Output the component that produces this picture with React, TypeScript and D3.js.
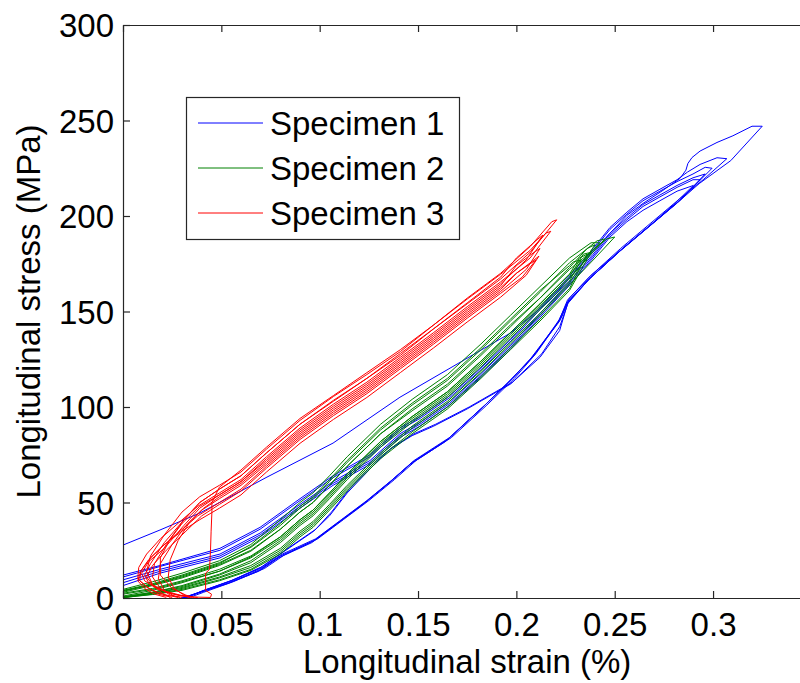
import React, { useEffect, useRef } from 'react';
import * as d3 from 'd3';

type Pt = [number, number];

const xTicks = [0, 0.05, 0.1, 0.15, 0.2, 0.25, 0.3];
const yTicks = [0, 50, 100, 150, 200, 250, 300];
const seriesNames = ['Specimen 1', 'Specimen 2', 'Specimen 3'];
const seriesColors = ['#0000ff', '#008000', '#ff0000'];

// Specimen 1 (strain %, stress MPa), one array per load cycle
const s1Loop1: Pt[] = [[0.0305,0],[0.039,3],[0.054,8],[0.07,15],[0.08,22],[0.097,30],[0.11,40],[0.123,50],[0.136,61],[0.147,71],[0.165,83],[0.183,100],[0.197,114],[0.208,126],[0.222,145],[0.226,155],[0.237,167],[0.253,182],[0.268,195],[0.283,208],[0.293,217],[0.309,229],[0.325,247],
  [0.3198,247],[0.3101,242],[0.302,238.5],[0.2934,234],[0.2893,230.6],[0.2872,227.5],[0.2862,224],[0.2832,219.7],[0.2745,213.4],[0.2644,206.6],[0.2562,200.3],[0.2476,191],[0.241,183.6],[0.2298,170.5],[0.2171,155.9],[0.1968,138.6],[0.1749,125.5],[0.1408,105.1],[0.1068,81.1],[0.0732,63.3],[0.0391,44.5],[0.0188,35.6],[0,27.7]];
const s1Loop2: Pt[] = [[0.0315,0],[0.04,3.5],[0.055,9],[0.071,16],[0.081,23],[0.098,31],[0.111,41],[0.124,51],[0.137,62],[0.148,72],[0.166,84],[0.184,101],[0.198,115],[0.209,127],[0.222,146],[0.226,156],[0.237,168],[0.253,183],[0.268,196],[0.283,209],[0.295,219],[0.307,230],
  [0.302,230.5],[0.2934,227],[0.287,223],[0.2817,219],[0.273,214],[0.2644,209],[0.2562,202],[0.2476,194],[0.239,183],[0.2273,169],[0.212,152],[0.1968,135],[0.1815,120],[0.1662,106],[0.151,95],[0.1408,89],[0.1256,75],[0.1068,64],[0.09,52],[0.0697,37],[0.0493,26],[0.0188,17],[0,12]];
const s1Loop3: Pt[] = [[0.0305,0],[0.04,3.5],[0.055,9],[0.07,16],[0.08,23],[0.097,35],[0.105,43],[0.114,55],[0.126,68],[0.136,78],[0.147,85],[0.158,90],[0.175,99],[0.197,112],[0.212,126],[0.222,140],[0.226,154],[0.237,167],[0.253,182],[0.268,195],[0.283,208],[0.2995,225],
  [0.296,225.5],[0.2898,222],[0.2817,218],[0.273,213],[0.2644,208],[0.2562,201],[0.2476,193],[0.239,182],[0.2273,168],[0.212,151],[0.1968,134],[0.1815,119],[0.1662,105],[0.151,94],[0.1408,88],[0.1256,74],[0.1068,63],[0.09,51],[0.0697,36],[0.0493,25],[0.0188,16.5],[0,11]];
const s1Loop4: Pt[] = [[0.0295,0],[0.038,2.5],[0.053,7.5],[0.069,14],[0.079,21],[0.096,29],[0.109,39],[0.122,49],[0.135,60],[0.146,70],[0.164,82],[0.182,99],[0.196,113],[0.207,125],[0.221,144],[0.2255,154],[0.236,166],[0.252,181],[0.267,194],[0.282,207],[0.296,222],
  [0.2898,220],[0.2817,216],[0.273,211],[0.2644,206],[0.2562,199],[0.2476,191],[0.239,180],[0.2273,166],[0.212,149],[0.1968,132],[0.1815,117],[0.1662,103],[0.151,92],[0.1408,86],[0.1256,72],[0.1068,61],[0.09,49],[0.0697,34],[0.0493,23],[0.0188,15],[0,9.5]];
const s1Loop5: Pt[] = [[0.032,0],[0.041,4],[0.056,9.5],[0.071,16.5],[0.081,24],[0.098,36],[0.106,45],[0.115,57],[0.127,70],[0.137,79],[0.148,86],[0.159,91],[0.176,100],[0.198,113],[0.213,128],[0.222,142],[0.2265,155],[0.238,168],[0.254,183],[0.269,196],[0.284,209],[0.2935,219],
  [0.2898,219],[0.2817,215],[0.273,210],[0.2644,205],[0.2562,198],[0.2476,190],[0.239,179],[0.2273,165],[0.212,148],[0.1968,131],[0.1815,116],[0.1662,102],[0.151,91],[0.1408,85],[0.1256,71],[0.1068,60],[0.09,48],[0.0697,33],[0.0493,22],[0.0188,14],[0,8]];
const s1Loop6: Pt[] = [[0.033,0],[0.041,3],[0.056,8.5],[0.072,15.5],[0.082,22.5],[0.099,31],[0.112,41],[0.125,51],[0.138,62],[0.149,72],[0.167,84],[0.185,101],[0.199,115],[0.21,128],[0.223,147],[0.227,157],[0.238,169],[0.254,183],[0.269,196],[0.28,206],[0.29,216],
  [0.2817,213],[0.273,208],[0.2644,203],[0.2562,197],[0.2476,189],[0.239,178],[0.2273,164],[0.212,147],[0.1968,130],[0.1815,115],[0.1662,101],[0.151,90],[0.1408,84],[0.1256,70],[0.1068,59],[0.09,47],[0.0697,32],[0.0493,21],[0.0188,13],[0,6.5]];

// Specimen 2
const s2Loop1: Pt[] = [[0,0.3],[0.015,2.5],[0.03,5.5],[0.049,11],[0.065,17],[0.08,26],[0.09,35],[0.0966,40],[0.105,49],[0.114,59],[0.131,76],[0.147,90],[0.165,103],[0.182,119],[0.197,134],[0.212,149],[0.227,165],[0.24,185],
  [0.236,183],[0.227,173],[0.212,157],[0.197,142],[0.182,127],[0.165,111],[0.147,98],[0.131,86],[0.114,69],[0.105,59],[0.0966,50],[0.09,45],[0.08,36],[0.065,25],[0.049,17.5],[0.03,11],[0.015,7],[0,3.5]];
const s2Loop2: Pt[] = [[0,0.5],[0.015,3],[0.03,6.5],[0.049,12.5],[0.065,19.5],[0.08,30],[0.09,39],[0.0966,44],[0.105,53],[0.114,63],[0.131,80],[0.147,93],[0.165,106],[0.182,122],[0.197,137],[0.212,152],[0.227,167.5],[0.245,188],
  [0.241,187],[0.227,175.5],[0.212,160],[0.197,145],[0.182,130],[0.165,114],[0.147,101],[0.131,88],[0.114,71],[0.105,61],[0.0966,52],[0.09,47],[0.08,38],[0.065,26.5],[0.049,18.5],[0.03,12],[0.015,7.5],[0,4]];
const s2Loop3: Pt[] = [[0,0.2],[0.015,2],[0.03,4.5],[0.049,9.5],[0.065,15],[0.08,24],[0.09,33],[0.0966,38],[0.105,47],[0.114,57],[0.131,74],[0.147,87],[0.165,100],[0.182,116],[0.197,131],[0.212,146],[0.227,162],[0.236,180],
  [0.232,178],[0.227,169.5],[0.212,154],[0.197,139],[0.182,124],[0.165,108],[0.147,95],[0.131,82],[0.114,65],[0.105,55],[0.0966,46],[0.09,41],[0.08,32],[0.065,22],[0.049,15],[0.03,9],[0.015,5],[0,2.5]];
const s2Loop4: Pt[] = [[0,1],[0.015,4],[0.03,8],[0.049,14],[0.065,21.5],[0.08,32],[0.09,41],[0.0966,46],[0.105,55],[0.114,65],[0.131,82],[0.147,95],[0.165,108],[0.182,124],[0.197,139],[0.212,154],[0.227,169.5],[0.2425,186],
  [0.238,186],[0.227,178],[0.212,163],[0.197,148],[0.182,133],[0.165,117],[0.147,104],[0.131,91],[0.114,74],[0.105,64],[0.0966,55],[0.09,50],[0.08,41],[0.065,28],[0.049,19.5],[0.03,13],[0.015,8.5],[0,4.5]];
const s2Loop5: Pt[] = [[0,0.3],[0.015,2.5],[0.03,5],[0.049,10.5],[0.065,16],[0.08,25],[0.09,34],[0.0966,39],[0.105,48],[0.114,58],[0.131,75],[0.147,89],[0.165,102],[0.182,118],[0.197,133],[0.212,148],[0.227,164],[0.24,178],[0.25,189],
  [0.246,188],[0.24,183],[0.227,172],[0.212,157],[0.197,143],[0.182,128],[0.165,112],[0.147,99],[0.131,86],[0.114,69],[0.105,59],[0.0966,50],[0.09,45],[0.08,36],[0.065,24.5],[0.049,17],[0.03,10.5],[0.015,6.5],[0,3]];
const s2Loop6: Pt[] = [[0,0.6],[0.015,3],[0.03,6],[0.049,12],[0.065,18.5],[0.08,29],[0.09,38],[0.0966,43],[0.105,52],[0.114,62],[0.131,79],[0.147,92],[0.165,105],[0.182,121],[0.197,136],[0.212,151],[0.227,166],[0.233,177],
  [0.229,176],[0.227,174],[0.212,161],[0.197,146],[0.182,131],[0.165,115],[0.147,102],[0.131,89],[0.114,72],[0.105,62],[0.0966,53],[0.09,48],[0.08,39],[0.065,27],[0.049,18],[0.03,11.5],[0.015,7],[0,3.8]];
const s2Loop7: Pt[] = [[0,0.2],[0.015,1.8],[0.03,4],[0.049,9],[0.065,14.5],[0.08,23],[0.09,32],[0.0966,37],[0.105,46],[0.114,56],[0.131,73],[0.147,86],[0.165,99],[0.182,115],[0.197,130],[0.212,145],[0.227,161],[0.238,181],
  [0.234,180],[0.227,168],[0.212,153],[0.197,138],[0.182,123],[0.165,107],[0.147,94],[0.131,81],[0.114,64],[0.105,54],[0.0966,45],[0.09,40],[0.08,31],[0.065,21],[0.049,14],[0.03,8.5],[0.015,4.5],[0,2]];

// Specimen 3
const s3Loop1: Pt[] = [[0.0445,0.3],[0.036,0.5],[0.029,1.5],[0.02,4],[0.013,8],[0.011,12],[0.014,18],[0.021,29],[0.031,41],[0.039,50],[0.049,57],[0.06,64],[0.073,76],[0.09,91],[0.107,103],[0.124,115],[0.141,127],[0.158,141],[0.175,154],[0.192,167],[0.207,181],[0.2205,198],
  [0.218,197],[0.207,184],[0.192,170],[0.175,157],[0.158,143],[0.141,130],[0.124,118],[0.107,106],[0.09,94],[0.073,79],[0.06,67],[0.049,58],[0.0452,50],[0.0452,45],[0.0448,35],[0.0445,25],[0.044,15],[0.042,13],[0.042,4],[0.045,2],[0.0445,0.3]];
const s3Loop2: Pt[] = [[0.034,0.3],[0.026,2],[0.017,5],[0.011,9],[0.0095,13],[0.013,19],[0.021,26],[0.031,38],[0.039,47],[0.049,54],[0.06,61],[0.073,73],[0.09,88],[0.107,100.5],[0.124,112],[0.141,125],[0.158,138],[0.175,151.5],[0.192,164.5],[0.205,177],[0.2135,190],
  [0.211,188],[0.2,178],[0.192,168],[0.175,154.5],[0.158,141],[0.141,128],[0.124,115],[0.107,103.5],[0.09,91],[0.073,76],[0.06,64],[0.049,57],[0.039,50],[0.031,41],[0.024,31],[0.019,21],[0.019,12],[0.025,5],[0.032,1.5],[0.036,0.3]];
const s3Loop3: Pt[] = [[0.028,0.3],[0.02,2],[0.013,5],[0.0085,9],[0.009,14],[0.013,20],[0.02,27],[0.029,35],[0.038,43],[0.049,50],[0.06,57],[0.073,69],[0.09,84],[0.107,96.5],[0.124,108],[0.141,121],[0.158,134],[0.175,147.5],[0.192,160.5],[0.205,172],[0.212,183],
  [0.209,181],[0.2,174],[0.192,163.5],[0.175,150.5],[0.158,137],[0.141,124],[0.124,111],[0.107,99.5],[0.09,87],[0.073,72],[0.06,61],[0.049,54],[0.039,48],[0.03,39],[0.022,28],[0.016,18],[0.015,11],[0.019,5],[0.024,1.5],[0.03,0.3]];
const s3Loop4: Pt[] = [[0.022,0.3],[0.016,2],[0.011,5],[0.0075,9],[0.009,14],[0.014,21],[0.021,28],[0.03,35],[0.039,41],[0.049,47],[0.06,54],[0.073,66],[0.09,81],[0.107,93.5],[0.124,105],[0.141,118],[0.158,131],[0.175,144.5],[0.192,157.5],[0.205,169],[0.2115,179],
  [0.209,177],[0.2,170],[0.192,161.5],[0.175,148.5],[0.158,135],[0.141,122],[0.124,109],[0.107,97.5],[0.09,85],[0.073,70],[0.06,59],[0.049,52],[0.04,46],[0.032,38],[0.025,28],[0.019,18],[0.018,10],[0.021,4],[0.026,1],[0.029,0.3]];
const s3Loop5: Pt[] = [[0.038,0.3],[0.03,1],[0.022,3],[0.015,7],[0.012,11],[0.015,17],[0.022,25],[0.032,35],[0.04,43],[0.049,49],[0.06,56],[0.073,68],[0.09,83],[0.107,95.5],[0.124,107],[0.141,120],[0.158,133],[0.175,146.5],[0.192,159.5],[0.203,168],[0.21,177],
  [0.207,175],[0.2,170],[0.192,162.5],[0.175,149.5],[0.158,136],[0.141,123],[0.124,110],[0.107,98.5],[0.09,86],[0.073,71],[0.06,60],[0.049,53],[0.041,47],[0.034,40],[0.028,30],[0.024,20],[0.023,11],[0.026,5],[0.031,1.5],[0.035,0.3]];
const s3Loop6: Pt[] = [[0.025,0.3],[0.018,2],[0.012,6],[0.0075,10],[0.008,16],[0.012,23],[0.019,31],[0.029,40],[0.038,48],[0.049,55],[0.06,62],[0.073,74],[0.09,89],[0.107,101.5],[0.124,113],[0.141,126],[0.158,139],[0.175,152.5],[0.192,165.5],[0.207,178],[0.2175,192],
  [0.215,191],[0.207,182],[0.192,169.5],[0.175,156.5],[0.158,143],[0.141,129],[0.124,117],[0.107,105.5],[0.09,93],[0.073,78],[0.06,66],[0.049,59],[0.039,53],[0.03,45],[0.021,33],[0.014,22],[0.012,14],[0.015,7],[0.02,2.5],[0.024,0.3]];

const specimen1 = [s1Loop1, s1Loop2, s1Loop3, s1Loop4, s1Loop5, s1Loop6];
const specimen2 = [s2Loop1, s2Loop2, s2Loop3, s2Loop4, s2Loop5, s2Loop6, s2Loop7];
const specimen3 = [s3Loop1, s3Loop2, s3Loop3, s3Loop4, s3Loop5, s3Loop6];

const FONT = "'Liberation Sans', Arial, Helvetica, sans-serif";

const App = () => {
  const ref = useRef<SVGSVGElement>(null);

  useEffect(() => {
    const W = 800;
    const H = 683;
    const left = 123, top = 25, bottom = 598;
    const right = 811.4;

    const svg = d3.select(ref.current);
    svg.selectAll('*').remove();

    svg.append('rect').attr('width', W).attr('height', H).attr('fill', '#fff');

    const x = d3.scaleLinear().domain([0, 0.35]).range([left, right]);
    const y = d3.scaleLinear().domain([0, 300]).range([bottom, top]);

    const line = d3.line<Pt>()
      .x(d => x(d[0]))
      .y(d => y(d[1]));

    const all = [specimen1, specimen2, specimen3];
    all.forEach((loops, i) => {
      svg.append('g')
        .selectAll('path')
        .data(loops)
        .enter().append('path')
        .attr('d', d => line(d))
        .attr('fill', 'none')
        .attr('stroke', seriesColors[i])
        .attr('stroke-width', 1)
        .attr('stroke-linejoin', 'round');
    });

    const axisColor = '#262626';

    const styleAxis = (g) => {
      g.selectAll('path.domain').attr('stroke', axisColor).attr('stroke-width', 1.2);
      g.selectAll('.tick line').attr('stroke', axisColor).attr('stroke-width', 1.2);
      g.selectAll('.tick text')
        .attr('fill', '#000')
        .attr('font-family', FONT)
        .attr('font-size', 33);
    };

    // bottom
    const gx = svg.append('g')
      .attr('transform', `translate(0,${bottom})`)
      .call(d3.axisBottom(x).tickValues(xTicks).tickSizeInner(-7).tickSizeOuter(0).tickPadding(15)
        .tickFormat(d => String(+d)));
    styleAxis(gx);

    // top
    const gt = svg.append('g')
      .attr('transform', `translate(0,${top})`)
      .call(d3.axisTop(x).tickValues(xTicks).tickSizeInner(-7).tickSizeOuter(0).tickFormat(() => ''));
    styleAxis(gt);

    // left
    const gy = svg.append('g')
      .attr('transform', `translate(${left},0)`)
      .call(d3.axisLeft(y).tickValues(yTicks).tickSizeInner(-7).tickSizeOuter(0).tickPadding(9)
        .tickFormat(d => String(d)));
    styleAxis(gy);
    gy.selectAll('.tick text').attr('dy', '0.35em');

    // right
    const gr = svg.append('g')
      .attr('transform', `translate(${right},0)`)
      .call(d3.axisRight(y).tickValues(yTicks).tickSizeInner(-7).tickSizeOuter(0).tickFormat(() => ''));
    styleAxis(gr);

    // axis labels
    svg.append('text')
      .attr('x', (left + right) / 2)
      .attr('y', 673)
      .attr('text-anchor', 'middle')
      .attr('font-family', FONT)
      .attr('font-size', 33)
      .text('Longitudinal strain (%)');

    svg.append('text')
      .attr('transform', `translate(40,${(top + bottom) / 2}) rotate(-90)`)
      .attr('text-anchor', 'middle')
      .attr('font-family', FONT)
      .attr('font-size', 33)
      .text('Longitudinal stress (MPa)');

    // legend
    const legend = svg.append('g');
    legend.append('rect')
      .attr('x', 186.5)
      .attr('y', 97.5)
      .attr('width', 273)
      .attr('height', 142)
      .attr('fill', '#fff')
      .attr('stroke', axisColor)
      .attr('stroke-width', 1.2);

    seriesNames.forEach((name, i) => {
      const ly = 123 + i * 45;
      legend.append('line')
        .attr('x1', 198).attr('x2', 263)
        .attr('y1', ly).attr('y2', ly)
        .attr('stroke', seriesColors[i])
        .attr('stroke-width', 1);
      legend.append('text')
        .attr('x', 270)
        .attr('y', ly + 12)
        .attr('font-family', FONT)
        .attr('font-size', 33)
        .text(name);
    });
  }, []);

  return (
    <div style={{ position: 'absolute', left: 0, top: 0 }}>
      <svg ref={ref} width={800} height={683} style={{ display: 'block' }} />
    </div>
  );
};

export default App;
